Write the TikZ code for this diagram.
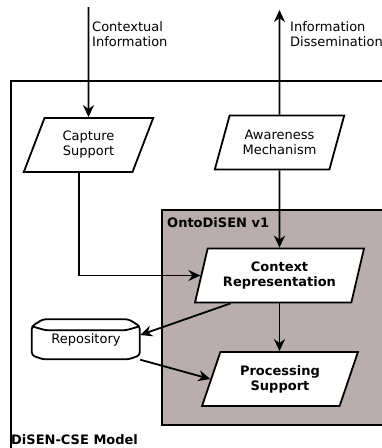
\documentclass[tikz,border=0pt]{standalone}
\usepackage{fontspec}
\setmainfont{DejaVu Sans}
\usetikzlibrary{shapes.geometric,arrows.meta}
\definecolor{ontogray}{RGB}{185,173,173}
\tikzset{
  flow/.style={line width=1.8pt,-{Stealth[length=12pt,width=11pt]}},
  iobox/.style={trapezium, trapezium left angle=66, trapezium right angle=114,
    trapezium stretches=true, draw, line width=1.8pt, fill=white, align=center,
    inner sep=0pt, minimum width=130pt, minimum height=54pt,
    font=\fontsize{13}{15}\selectfont},
  txt/.style={inner sep=0pt, align=left, font=\fontsize{13}{15}\selectfont},
}
\begin{document}
\begin{tikzpicture}[x=1pt,y=-1pt]
    \useasboundingbox (0,0) rectangle (382,448);
    % Marcos
    \begin{scope}
        \clip (0,0) rectangle (382,448);
        \draw[line width=1.8pt] (11,81) rectangle (400,470);
        \draw[line width=1.8pt, fill=ontogray] (162,210) rectangle (400,425);
    \end{scope}
    \node[txt, font=\fontsize{13}{15}\selectfont\bfseries, anchor=north west] (onto) at (167,217) {OntoDiSEN v1};
    \node[txt, font=\fontsize{13}{15}\selectfont\bfseries, anchor=north west] (model) at (11,434) {DiSEN-CSE Model};

    % Bloques
    \node[iobox] (capture) at (88.5,145) {Capture\\Support};
    \node[iobox] (aware) at (279.5,142.5) {Awareness\\Mechanism};
    \node[iobox, trapezium left angle=70, trapezium right angle=110, minimum width=169pt,
        font=\fontsize{13}{15}\selectfont\bfseries] (context) at (279.5,275.5) {Context\\Representation};
    \node[iobox, minimum width=156pt, font=\fontsize{13}{15}\selectfont\bfseries] (process) at (280,379) {Processing\\Support};
    \node[txt, minimum width=108pt, minimum height=39pt, align=center] (repo) at (86,340) {Repository};
    \draw[line width=1.8pt, rounded corners=3pt] (repo.north west) ++(0,6) -- ++(11,-7) -- ++(86,0) -- ++(11,7)
        -- ++(0,29) -- ++(-11,4) -- ++(-86,0) -- ++(-11,-4) -- cycle;
    \draw[line width=1.8pt, rounded corners=3pt] (repo.north west) ++(0,6) -- ++(14,4) -- ++(80,0) -- ++(14,-4);

    % Entradas y salidas
    \coordinate (ctxin) at (88.5,7);
    \coordinate (dissem) at (279.5,10);
    \node[txt, anchor=north west] (ctxlabel) at (92,21) {Contextual\\Information};
    \node[txt, anchor=north west] (dislabel) at (290,21) {Information\\Dissemination};

    % Flechas
    \draw[flow] (ctxin) -- (capture.north);
    \draw[flow] (aware.north) -- (dissem);
    \draw[flow] ([xshift=-9.5pt]capture.south) |- (context.left side);
    \draw[flow] (aware.south) -- (context.north);
    \draw[flow] (context.south) -- (context.south |- process.north);
    \draw[flow] ([xshift=-49pt]context.south) -- ([yshift=5pt]repo.east);
    \draw[flow] (repo.south east) -- (process.left side);
\end{tikzpicture}
\end{document}
